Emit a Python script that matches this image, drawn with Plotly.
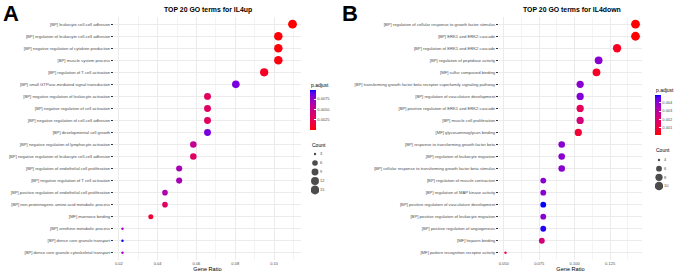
import plotly.graph_objects as go

W, H = 677, 274

# ---------------- data ----------------
terms_up = [
    "[BP] leukocyte cell-cell adhesion",
    "[BP] regulation of leukocyte cell-cell adhesion",
    "[BP] negative regulation of cytokine production",
    "[BP] muscle system process",
    "[BP] regulation of T cell activation",
    "[BP] small GTPase-mediated signal transduction",
    "[BP] negative regulation of leukocyte activation",
    "[BP] negative regulation of cell activation",
    "[BP] negative regulation of cell-cell adhesion",
    "[BP] developmental cell growth",
    "[BP] negative regulation of lymphocyte activation",
    "[BP] negative regulation of leukocyte cell-cell adhesion",
    "[BP] regulation of endothelial cell proliferation",
    "[BP] negative regulation of T cell activation",
    "[BP] positive regulation of endothelial cell proliferation",
    "[BP] non-proteinogenic amino acid metabolic process",
    "[MF] mannose binding",
    "[BP] ornithine metabolic process",
    "[BP] dense core granule transport",
    "[BP] dense core granule cytoskeletal transport",
]
ratio_up = [0.1095, 0.1022, 0.1022, 0.1022, 0.0949, 0.0803, 0.0657, 0.0657, 0.0657, 0.0657,
            0.0584, 0.0584, 0.0511, 0.0511, 0.0438, 0.0438, 0.0365, 0.0219, 0.0219, 0.0219]
count_up = [15, 14, 14, 14, 13, 11, 9, 9, 9, 9, 8, 8, 7, 7, 6, 6, 5, 3, 3, 3]
padj_up = [0.00001, 0.00015, 0.0002, 0.0003, 0.0008, 0.0084, 0.0030, 0.0031, 0.0031, 0.0083,
           0.0052, 0.0031, 0.0068, 0.0068, 0.0064, 0.0031, 0.0013, 0.0070, 0.0097, 0.0070]

terms_down = [
    "[BP] regulation of cellular response to growth factor stimulus",
    "[BP] ERK1 and ERK2 cascade",
    "[BP] regulation of ERK1 and ERK2 cascade",
    "[BP] regulation of peptidase activity",
    "[MF] sulfur compound binding",
    "[BP] transforming growth factor beta receptor superfamily signaling pathway",
    "[BP] regulation of vasculature development",
    "[BP] positive regulation of ERK1 and ERK2 cascade",
    "[BP] muscle cell proliferation",
    "[MF] glycosaminoglycan binding",
    "[BP] response to transforming growth factor beta",
    "[BP] regulation of leukocyte migration",
    "[BP] cellular response to transforming growth factor beta stimulus",
    "[BP] regulation of muscle contraction",
    "[BP] regulation of MAP kinase activity",
    "[BP] positive regulation of vasculature development",
    "[BP] positive regulation of leukocyte migration",
    "[BP] positive regulation of angiogenesis",
    "[MF] heparin binding",
    "[MF] pattern recognition receptor activity",
]
ratio_down = [0.1429, 0.1429, 0.1299, 0.1169, 0.1154, 0.1039, 0.1039, 0.1039, 0.1039, 0.1026,
              0.0909, 0.0909, 0.0909, 0.0779, 0.0779, 0.0779, 0.0779, 0.0779, 0.0769, 0.0513]
count_down = [11, 11, 10, 9, 9, 8, 8, 8, 8, 8, 7, 7, 7, 6, 6, 6, 6, 6, 6, 4]
padj_down = [0.00015, 0.00017, 0.0005, 0.0040, 0.0006, 0.0040, 0.0041, 0.0015, 0.0022, 0.0008,
             0.0040, 0.0040, 0.0040, 0.0040, 0.0040, 0.0049, 0.0040, 0.0048, 0.0022, 0.0010]

size_breaks_up = [3, 6, 9, 12, 15]
size_breaks_down = [4, 6, 8, 10]
padj_ticks_up = [0.0025, 0.0050, 0.0075]
padj_ticks_down = [0.001, 0.002, 0.003, 0.004]
xticks_up = [0.02, 0.04, 0.06, 0.08, 0.10]
xticks_down = [0.050, 0.075, 0.100, 0.125]

# ---------------- helpers ----------------
FONT = "Liberation Sans"
TXT = "#4D4D4D"


def lab_from_rgb(rgb):
    def lin(c):
        c = c / 255.0
        return c / 12.92 if c <= 0.04045 else ((c + 0.055) / 1.055) ** 2.4
    r, g, b = (lin(c) for c in rgb)
    X = (0.4124 * r + 0.3576 * g + 0.1805 * b) / 0.95047
    Y = (0.2126 * r + 0.7152 * g + 0.0722 * b)
    Z = (0.0193 * r + 0.1192 * g + 0.9505 * b) / 1.08883
    f = lambda t: t ** (1 / 3) if t > 0.008856 else 7.787 * t + 16 / 116
    return (116 * f(Y) - 16, 500 * (f(X) - f(Y)), 200 * (f(Y) - f(Z)))


def rgb_from_lab(lab):
    L, a, b = lab
    fy = (L + 16) / 116
    fx = fy + a / 500
    fz = fy - b / 200
    finv = lambda t: t ** 3 if t ** 3 > 0.008856 else (t - 16 / 116) / 7.787
    X, Y, Z = finv(fx) * 0.95047, finv(fy), finv(fz) * 1.08883
    r = 3.2406 * X - 1.5372 * Y - 0.4986 * Z
    g = -0.9689 * X + 1.8758 * Y + 0.0415 * Z
    bb = 0.0557 * X - 0.2040 * Y + 1.0570 * Z
    def gam(c):
        c = 12.92 * c if c <= 0.0031308 else 1.055 * max(c, 0) ** (1 / 2.4) - 0.055
        return int(round(min(max(c, 0), 1) * 255))
    return "rgb(%d,%d,%d)" % (gam(r), gam(g), gam(bb))


lo, hi = lab_from_rgb((255, 0, 0)), lab_from_rgb((0, 0, 255))
N = 20
colorscale = [[i / N, rgb_from_lab(tuple(lo[k] + (hi[k] - lo[k]) * i / N for k in range(3)))]
              for i in range(N + 1)]

DMIN, DMAX = 2.4, 8.8


def sizes(counts, cmin, cmax):
    return [DMIN + (DMAX - DMIN) * ((c - cmin) / (cmax - cmin)) ** 0.5 for c in counts]


def px_x(p):
    return p / W


def px_y(p):
    return 1 - p / H


fig = go.Figure()

panels = [
    dict(terms=terms_up, ratio=ratio_up, count=count_up, padj=padj_up, xa="x", ya="y",
         cb_x=309.5, cb_top=90, cb_ticks=padj_ticks_up, cb_fmt=".4f"),
    dict(terms=terms_down, ratio=ratio_down, count=count_down, padj=padj_down, xa="x2", ya="y2",
         cb_x=654.5, cb_top=95, cb_ticks=padj_ticks_down, cb_fmt=".3f"),
]

for p in panels:
    cmin_c, cmax_c = min(p["count"]), max(p["count"])
    fig.add_trace(go.Scatter(
        x=p["ratio"], y=p["terms"], mode="markers", xaxis=p["xa"], yaxis=p["ya"],
        showlegend=False, hoverinfo="skip",
        marker=dict(
            size=sizes(p["count"], cmin_c, cmax_c), sizemode="diameter",
            color=p["padj"], colorscale=colorscale,
            cmin=min(p["padj"]), cmax=max(p["padj"]), line=dict(width=0), opacity=1,
            showscale=True,
            colorbar=dict(
                x=px_x(p["cb_x"]), xanchor="left", y=px_y(p["cb_top"]), yanchor="top",
                len=40, lenmode="pixels", thickness=5.5, thicknessmode="pixels",
                xpad=0, ypad=0, outlinewidth=0, tickvals=p["cb_ticks"], tickformat=p["cb_fmt"],
                ticks="inside", ticklen=1.2, tickcolor="white", tickwidth=0.5,
                tickfont=dict(family=FONT, size=4, color=TXT),
            ),
        ),
    ))

# size legends
legends = [
    dict(breaks=size_breaks_up, cmin=min(count_up), cmax=max(count_up), xa="x3", ya="y3"),
    dict(breaks=size_breaks_down, cmin=min(count_down), cmax=max(count_down), xa="x4", ya="y4"),
]
for lg in legends:
    fig.add_trace(go.Scatter(
        x=[0] * len(lg["breaks"]), y=lg["breaks"], mode="markers", xaxis=lg["xa"], yaxis=lg["ya"],
        showlegend=False, hoverinfo="skip",
        marker=dict(size=sizes(lg["breaks"], lg["cmin"], lg["cmax"]), color="black", line=dict(width=0)),
    ))


def xaxis_main(d0, d1, data, ticks, fmt, minor_dtick):
    span = max(data) - min(data)
    return dict(
        domain=[px_x(d0), px_x(d1)], range=[min(data) - 0.05 * span, max(data) + 0.05 * span],
        tickvals=ticks, tickformat=fmt, showgrid=True, gridcolor="#EBEBEB", gridwidth=0.6,
        minor=dict(dtick=minor_dtick, tick0=ticks[0], showgrid=True, gridcolor="#F4F4F4", gridwidth=0.4),
        zeroline=False, showline=False, ticks="", tickfont=dict(family=FONT, size=4, color=TXT),
        title=dict(text="Gene Ratio", font=dict(family=FONT, size=5.6, color="black"), standoff=2),
        automargin=False, fixedrange=True,
    )


def yaxis_main(anchor):
    return dict(
        domain=[px_y(260), px_y(17)], anchor=anchor, range=[19.6, -0.6], type="category",
        showgrid=True, gridcolor="#EBEBEB", gridwidth=0.6, zeroline=False, showline=False,
        ticks="outside", ticklen=2, tickwidth=0.5, tickcolor="#333333",
        tickfont=dict(family=FONT, size=4.2, color=TXT), automargin=False, fixedrange=True,
    )


fig.update_layout(
    width=W, height=H, autosize=False, margin=dict(l=0, r=0, t=0, b=0),
    paper_bgcolor="white", plot_bgcolor="white", font=dict(family=FONT),
    xaxis=dict(xaxis_main(114, 301, ratio_up, xticks_up, ".2f", 0.01), anchor="y"),
    yaxis=yaxis_main("x"),
    xaxis2=dict(xaxis_main(499, 642, ratio_down, xticks_down, ".3f", 0.0125), anchor="y2"),
    yaxis2=yaxis_main("x2"),
    xaxis3=dict(domain=[px_x(311), px_x(319)], range=[-1, 1], visible=False, anchor="y3", fixedrange=True),
    yaxis3=dict(domain=[px_y(196), px_y(148)], range=[17, 1], anchor="x3", side="right",
                tickvals=size_breaks_up, showgrid=False, zeroline=False, showline=False, ticks="",
                tickfont=dict(family=FONT, size=4, color=TXT), fixedrange=True),
    xaxis4=dict(domain=[px_x(655), px_x(663)], range=[-1, 1], visible=False, anchor="y4", fixedrange=True),
    yaxis4=dict(domain=[px_y(194.7), px_y(151.3)], range=[12, 2], anchor="x4", side="right",
                tickvals=size_breaks_down, showgrid=False, zeroline=False, showline=False, ticks="",
                tickfont=dict(family=FONT, size=4, color=TXT), fixedrange=True),
)

ann = [
    dict(text="<b>A</b>", x=px_x(2), y=1, xanchor="left", yanchor="top", borderpad=0,
         font=dict(family=FONT, size=22, color="black")),
    dict(text="<b>B</b>", x=px_x(341), y=1, xanchor="left", yanchor="top", borderpad=0,
         font=dict(family=FONT, size=22, color="black")),
    dict(text="<b>TOP 20 GO terms for IL4up</b>", x=px_x(207.5), y=px_y(10), xanchor="center",
         yanchor="middle", font=dict(family=FONT, size=6.9, color="black")),
    dict(text="<b>TOP 20 GO terms for IL4down</b>", x=px_x(571.5), y=px_y(10), xanchor="center",
         yanchor="middle", font=dict(family=FONT, size=6.9, color="black")),
    dict(text="p.adjust", x=px_x(309), y=px_y(85), xanchor="left", yanchor="middle",
         font=dict(family=FONT, size=5, color="black")),
    dict(text="p.adjust", x=px_x(654), y=px_y(90), xanchor="left", yanchor="middle",
         font=dict(family=FONT, size=5, color="black")),
    dict(text="Count", x=px_x(310), y=px_y(145), xanchor="left", yanchor="middle",
         font=dict(family=FONT, size=5, color="black")),
    dict(text="Count", x=px_x(654), y=px_y(150), xanchor="left", yanchor="middle",
         font=dict(family=FONT, size=5, color="black")),
]
for a in ann:
    a.update(xref="paper", yref="paper", showarrow=False)
fig.update_layout(annotations=ann)

fig.write_html("out.html")
